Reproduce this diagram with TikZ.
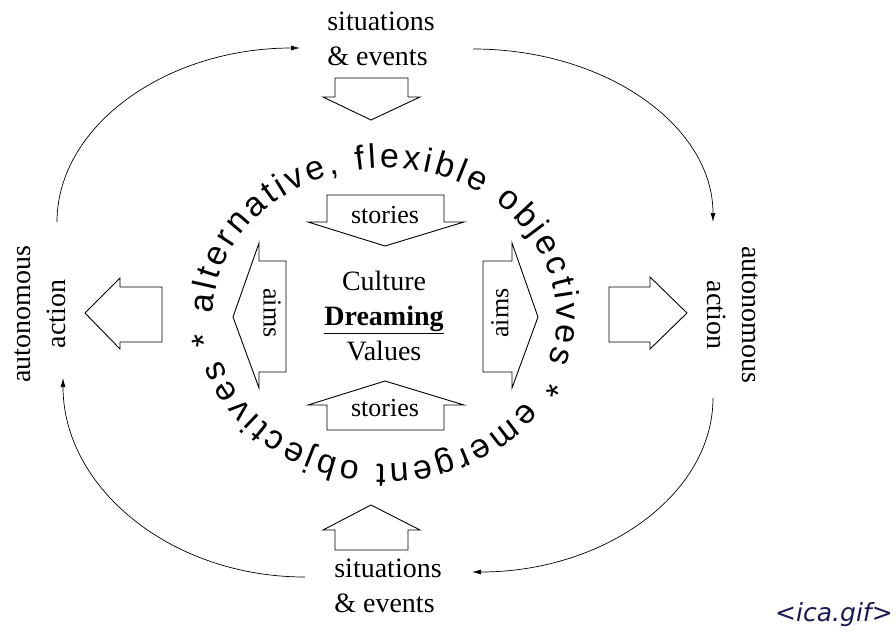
\documentclass[tikz,border=0pt]{standalone}
\usepackage{fontspec}
\setmainfont{Liberation Serif}
\newfontfamily\ringfont{Liberation Sans}
\newfontfamily\tagfont{DejaVu Sans}
\usetikzlibrary{arrows.meta,decorations.text}
\definecolor{tagblue}{RGB}{26,26,80}

\begin{document}
\begin{tikzpicture}[x=1pt, y=-1pt, >={Latex[length=9pt,width=5pt]},
  blk/.style={draw, line width=0.9pt, line join=miter},
  loop/.style={->, line width=0.7pt},
  txt/.style={align=center, inner sep=0pt, font=\fontsize{28}{35}\selectfont},
  small/.style={inner sep=0pt, font=\fontsize{26}{30}\selectfont}]
\useasboundingbox (0,0) rectangle (896,632);

% outer block arrows
\draw[blk] (335,78) -- (408,78) -- (408,97) -- (420,97) -- (371,120) -- (323,97) -- (335,97) -- cycle;
\draw[blk] (371,505) -- (420,530) -- (408,530) -- (408,550) -- (335,550) -- (335,530) -- (323,530) -- cycle;
\draw[blk] (85,313) -- (120,278) -- (120,287) -- (162,287) -- (162,342) -- (120,342) -- (120,349) -- cycle;
\draw[blk] (609,287) -- (650,287) -- (650,277) -- (687,313) -- (650,349) -- (650,342) -- (609,342) -- cycle;

% inner block arrows
\draw[blk] (327,195) -- (444,195) -- (444,222) -- (464,222) -- (385,246) -- (308,222) -- (327,222) -- cycle;
\draw[blk] (385,381) -- (464,405) -- (444,405) -- (444,430) -- (327,430) -- (327,405) -- (308,405) -- cycle;
\draw[blk] (233,317) -- (259,243) -- (259,261) -- (286,261) -- (286,372) -- (259,372) -- (259,388) -- cycle;
\draw[blk] (483,261) -- (512,261) -- (512,243) -- (538,317) -- (512,388) -- (512,372) -- (483,372) -- cycle;

% labels
\node[txt, align=left] (sitTop) at (381,39) {situations\\\& events};
\node[txt, align=left] (sitBot) at (388,586) {situations\\\& events};
\node[txt, rotate=90] (actLeft) at (40,314) {autonomous\\action};
\node[txt, rotate=-90] (actRight) at (733,315) {autonomous\\action};
\node[txt] (core) at (384,316) {Culture\\\underline{\textbf{Dreaming}}\\Values};
\node[small] (storTop) at (385,215) {stories};
\node[small] (storBot) at (385,408) {stories};
\node[small, rotate=-90] (aimLeft) at (272,313) {aims};
\node[small, rotate=90] (aimRight) at (500,313) {aims};

% the cycle round the outside
\coordinate (tlA) at (57,222);
\coordinate (tlB) at (300,48);
\coordinate (trA) at (473,49);
\coordinate (trB) at (713,222);
\coordinate (brA) at (713,398);
\coordinate (brB) at (472,572);
\coordinate (blA) at (305,577);
\coordinate (blB) at (63,378);
\draw[loop] (tlA) .. controls (57,126) and (166,48) .. (tlB);
\draw[loop] (trA) .. controls (606,49) and (713,126) .. (trB);
\draw[loop] (brA) .. controls (713,494) and (605,572) .. (brB);
\draw[loop] (blA) .. controls (171,577) and (63,488) .. (blB);

% ring of objectives
\path[decorate, decoration={text along path, text align={fit to path},
  text={|\ringfont\fontsize{34}{34}\selectfont|alternative, flexible objectives * emergent objectives *}}]
  (213.03,313.42) arc[start angle=181, end angle=534, x radius=172, y radius=148];

\node[font=\tagfont\itshape\fontsize{25}{25}\selectfont, text=tagblue, anchor=base west, inner sep=0pt] (tag) at (775,621) {<ica.gif>};
\end{tikzpicture}
\end{document}
